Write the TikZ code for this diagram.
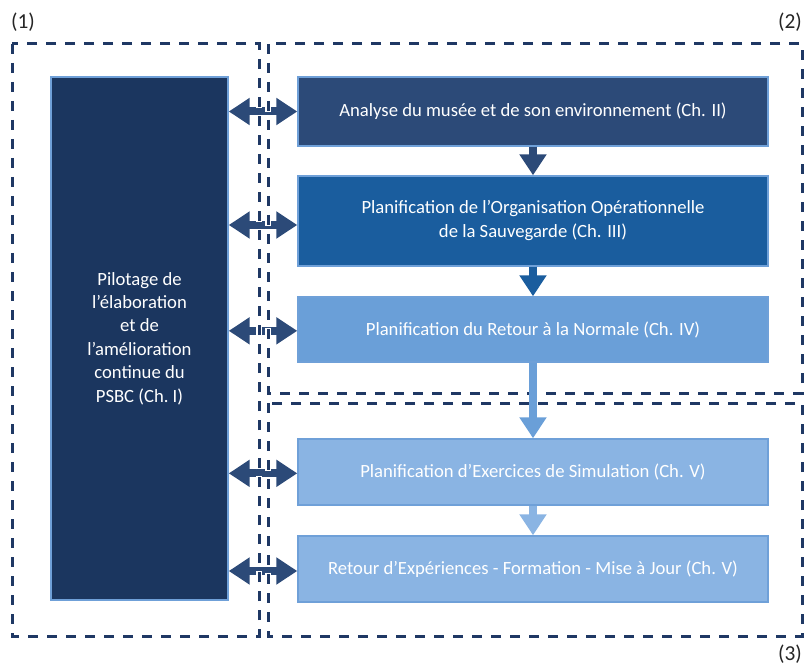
\documentclass[tikz,border=0pt]{standalone}
\usepackage{fontspec}
\setmainfont{Carlito}
\usetikzlibrary{arrows.meta}
\definecolor{navy}{HTML}{1B365F}
\definecolor{boxA}{HTML}{2C4A78}
\definecolor{boxB}{HTML}{1A5D9E}
\definecolor{boxC}{HTML}{6A9FD8}
\definecolor{boxD}{HTML}{8AB4E3}
\definecolor{edgecol}{HTML}{6FA0D8}
\definecolor{dashcol}{HTML}{1F3864}
\begin{document}
\begin{tikzpicture}[x=0.75pt,y=-0.75pt,
 box/.style={draw=edgecol, line width=1.1pt, text=white, font=\fontsize{14}{17.6}\selectfont, align=center, inner sep=0pt},
 rbox/.style={box, minimum width=352.5pt, font=\fontsize{14}{18}\selectfont},
 frame/.style={draw=dashcol, line width=2.25pt, dash pattern=on 7.5pt off 6.75pt},
 halo/.style={draw=white, line width=4.2pt, dash pattern=on 9.5pt off 4.75pt, dash phase=1pt},
 varrow/.style={line width=6pt, -{Triangle[width=19.5pt,length=15.75pt]}},
 darrow/.style={draw=boxA, line width=6pt, {Triangle[width=19.5pt,length=15.75pt]}-{Triangle[width=19.5pt,length=15.75pt]}},
 lab/.style={font=\fontsize{16}{19}\selectfont, text=black!85, inner sep=0pt}
]
\useasboundingbox (0,0) rectangle (805,666);

% labels
\node[lab] (l1) at (23,22) {(1)};
\node[lab] (l2) at (790,22) {(2)};
\node[lab] (l3) at (790,654) {(3)};

% boxes
\node[box, fill=navy, minimum width=132.75pt, minimum height=392.25pt] (L) at (139.5,338.5)
  {Pilotage de\\l’élaboration\\et de\\l’amélioration\\continue du\\PSBC (Ch.~I)};
\node[rbox, fill=boxA, minimum height=51.75pt] (A) at (533,111.5)
  {Analyse du musée et de son environnement (Ch. II)};
\node[rbox, fill=boxB, minimum height=67.5pt] (B) at (533,221)
  {Planification de l’Organisation Opérationnelle\\de la Sauvegarde (Ch. III)};
\node[rbox, fill=boxC, minimum height=48.75pt] (C) at (533,329.5)
  {Planification du Retour à la Normale (Ch. IV)};
\node[rbox, fill=boxD, minimum height=49.5pt] (D) at (533,472)
  {Planification d’Exercices de Simulation (Ch. V)};
\node[rbox, fill=boxD, minimum height=49.5pt] (E) at (533,569)
  {Retour d’Expériences - Formation - Mise à Jour (Ch. V)};

% double arrows
\draw[darrow] (L.east |- A.west) -- (A.west);
\draw[darrow] ([yshift=-3pt]L.east |- B.west) -- ([yshift=-3pt]B.west);
\draw[darrow] ([yshift=-1pt]L.east |- C.west) -- ([yshift=-1pt]C.west);
\draw[darrow] ([yshift=-1pt]L.east |- D.west) -- ([yshift=-1pt]D.west);
\draw[darrow] ([yshift=-1.5pt]L.east |- E.west) -- ([yshift=-1.5pt]E.west);

% dashed frames
\foreach \s in {halo,frame}{
  \draw[\s] (12,44) rectangle (259,636);
  \draw[\s] (268,44) rectangle (802,393);
  \draw[\s] (268,403) rectangle (802,636);
}

% vertical arrows
\draw[varrow, draw=boxA] (A.south) -- (B.north);
\draw[varrow, draw=boxB] (B.south) -- (C.north);
\draw[varrow, draw=boxC] (C.south) -- (D.north);
\draw[varrow, draw=boxD] (D.south) -- (E.north);
\end{tikzpicture}
\end{document}
